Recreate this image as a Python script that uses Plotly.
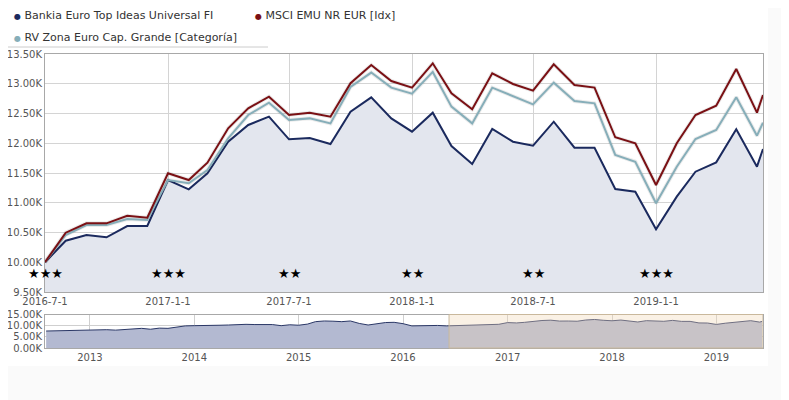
import plotly.graph_objects as go

# the page body has an 8px margin, so the figure is a bit smaller than the window
OFF = 8
W, H = 789 - OFF, 400 - OFF

# monthly values, rebased to 10000 on 2016-7-1
dates = ["2016-07-01", "2016-08-01", "2016-09-01", "2016-10-01", "2016-11-01", "2016-12-01",
         "2017-01-01", "2017-02-01", "2017-03-01", "2017-04-01", "2017-05-01", "2017-06-01",
         "2017-07-01", "2017-08-01", "2017-09-01", "2017-10-01", "2017-11-01", "2017-12-01",
         "2018-01-01", "2018-02-01", "2018-03-01", "2018-04-01", "2018-05-01", "2018-06-01",
         "2018-07-01", "2018-08-01", "2018-09-01", "2018-10-01", "2018-11-01", "2018-12-01",
         "2019-01-01", "2019-02-01", "2019-03-01", "2019-04-01", "2019-05-01", "2019-06-01",
         "2019-06-10"]
bankia = [10000, 10362, 10458, 10419, 10609, 10609, 11382, 11226, 11495, 12026, 12307, 12447,
          12066, 12088, 11987, 12530, 12772, 12418, 12194, 12514, 11954, 11651, 12240, 12026,
          11959, 12362, 11925, 11925, 11231, 11186, 10553, 11102, 11522, 11679, 12234, 11606,
          11903]
msci = [10000, 10497, 10654, 10654, 10782, 10749, 11495, 11382, 11673, 12251, 12587, 12783,
        12475, 12514, 12447, 13008, 13315, 13046, 12935, 13343, 12840, 12571, 13176, 12996,
        12884, 13327, 12980, 12935, 12100, 11999, 11298, 11999, 12475, 12631, 13248, 12514,
        12811]
categoria = [10000, 10458, 10626, 10626, 10727, 10710, 11382, 11327, 11551, 12082, 12475, 12682,
             12390, 12418, 12334, 12947, 13188, 12935, 12834, 13199, 12616, 12334, 12934, 12794,
             12654, 13018, 12710, 12671, 11803, 11690, 10991, 11606, 12071, 12223, 12772, 12127,
             12345]

# history shown in the navigator before the selected period
hist_dates = ["2012-08-01", "2012-09-01", "2012-10-01", "2012-11-01", "2012-12-01",
              "2013-01-01", "2013-02-01", "2013-03-01", "2013-04-01", "2013-05-01", "2013-06-01",
              "2013-07-01", "2013-08-01", "2013-09-01", "2013-10-01", "2013-11-01", "2013-12-01",
              "2014-01-01", "2014-02-01", "2014-03-01", "2014-04-01", "2014-05-01", "2014-06-01",
              "2014-07-01", "2014-08-01", "2014-09-01", "2014-10-01", "2014-11-01", "2014-12-01",
              "2015-01-01", "2015-02-01", "2015-03-01", "2015-04-01", "2015-05-01", "2015-06-01",
              "2015-07-01", "2015-08-01", "2015-09-01", "2015-10-01", "2015-11-01", "2015-12-01",
              "2016-01-01", "2016-02-01", "2016-03-01", "2016-04-01", "2016-05-01", "2016-06-01"]
hist_values = [7600, 7700, 7800, 7900, 8000,
               8200, 8300, 8200, 8000, 8300, 8500, 8800, 8400, 8900, 8800, 9400, 9900,
               10000, 10000, 9900, 10200, 10300, 10500, 10600, 10500, 10400, 10500, 10000, 10400,
               10200, 10700, 11800, 12100, 12000, 11800, 12100, 11000, 10300, 11000, 11400, 11500,
               10900, 9900, 10000, 10000, 10100, 9900]

y_ticks = [9500, 10000, 10500, 11000, 11500, 12000, 12500, 13000, 13500]
y_labels = ["9.50K", "10.00K", "10.50K", "11.00K", "11.50K", "12.00K", "12.50K", "13.00K", "13.50K"]
x_ticks = ["2016-07-01", "2017-01-01", "2017-07-01", "2018-01-01", "2018-07-01", "2019-01-01"]
x_labels = ["2016-7-1", "2017-1-1", "2017-7-1", "2018-1-1", "2018-7-1", "2019-1-1"]
star_dates = ["2016-07-01", "2017-01-01", "2017-07-01", "2018-01-01", "2018-07-01", "2019-01-01"]
star_counts = [3, 3, 2, 2, 2, 3]

nav_y_ticks = [0, 5000, 10000, 15000]
nav_y_labels = ["0.00K", "5.00K", "10.00K", "15.00K"]
nav_x_ticks = ["2013-01-01", "2014-01-01", "2015-01-01", "2016-01-01", "2017-01-01", "2018-01-01", "2019-01-01"]
nav_x_labels = ["2013", "2014", "2015", "2016", "2017", "2018", "2019"]

names = ["Bankia Euro Top Ideas Universal FI", "MSCI EMU NR EUR [Idx]", "RV Zona Euro Cap. Grande [Categoría]"]
colors = ["#1b2a5e", "#7a1014", "#86aeb9"]

FONT = "DejaVu Sans"

# window pixel -> paper fraction
def px_x(p):
    return (p - OFF) / W

def px_y(p):
    return 1 - (p - OFF) / H

fig = go.Figure()

# navy fund with area fill
fig.add_trace(go.Scatter(x=dates, y=bankia, mode="lines", fill="tozeroy",
                         fillcolor="#e3e6ee", line=dict(color=colors[0], width=2),
                         xaxis="x", yaxis="y", showlegend=False, hoverinfo="skip"))
# soft shadows under index and category
for vals in [categoria, msci]:
    fig.add_trace(go.Scatter(x=dates, y=vals, mode="lines",
                             line=dict(color="rgba(0,0,0,0.08)", width=4),
                             xaxis="x", yaxis="y", showlegend=False, hoverinfo="skip"))
fig.add_trace(go.Scatter(x=dates, y=categoria, mode="lines", line=dict(color=colors[2], width=2),
                         xaxis="x", yaxis="y", showlegend=False))
fig.add_trace(go.Scatter(x=dates, y=msci, mode="lines", line=dict(color=colors[1], width=2),
                         xaxis="x", yaxis="y", showlegend=False))

# navigator
nav_x = hist_dates + dates
nav_y = hist_values + bankia
fig.add_trace(go.Scatter(x=nav_x, y=nav_y, mode="lines", fill="tozeroy",
                         fillcolor="#b3b9d1", line=dict(color="#2a3766", width=1),
                         xaxis="x2", yaxis="y2", showlegend=False, hoverinfo="skip"))

main_top, main_bot = 54, 292
nav_top, nav_bot = 314.5, 348
x0, x1 = 45, 763

fig.update_layout(
    width=W, height=H,
    margin=dict(l=0, r=0, t=0, b=0),
    paper_bgcolor="white", plot_bgcolor="white",
    font=dict(family=FONT, size=10, color="#555555"),
    xaxis=dict(domain=[px_x(x0), px_x(x1)], range=["2016-07-01", "2019-06-10"],
               tickmode="array", tickvals=x_ticks, ticktext=x_labels,
               showgrid=True, gridcolor="#d4d4d4", gridwidth=1,
               showline=True, mirror=True, linecolor="#a8a8a8", linewidth=1,
               ticks="", zeroline=False, anchor="y", fixedrange=True, automargin=False),
    yaxis=dict(domain=[px_y(main_bot), px_y(main_top)], range=[9500, 13500],
               tickmode="array", tickvals=y_ticks, ticktext=y_labels,
               showgrid=True, gridcolor="#d4d4d4", gridwidth=1,
               showline=True, mirror=True, linecolor="#a8a8a8", linewidth=1,
               ticks="", zeroline=False, anchor="x", fixedrange=True, automargin=False),
    xaxis2=dict(domain=[px_x(x0), px_x(x1)], range=["2012-07-28", "2019-06-13"],
                tickmode="array", tickvals=nav_x_ticks, ticktext=nav_x_labels,
                showgrid=True, gridcolor="#cfcfcf",
                showline=True, mirror=True, linecolor="#a8a8a8",
                ticks="", zeroline=False, anchor="y2", fixedrange=True, automargin=False),
    yaxis2=dict(domain=[px_y(nav_bot), px_y(nav_top)], range=[0, 15000],
                tickmode="array", tickvals=nav_y_ticks, ticktext=nav_y_labels,
                showgrid=True, gridcolor="#cfcfcf",
                showline=True, mirror=True, linecolor="#a8a8a8",
                ticks="", zeroline=False, anchor="x2", fixedrange=True, automargin=False),
)

# selected period in the navigator
fig.add_shape(type="rect", xref="x2", yref="paper", x0="2016-06-10", x1="2019-06-13",
              y0=px_y(nav_bot), y1=px_y(nav_top),
              fillcolor="rgba(240,215,180,0.35)", line=dict(color="#c9b89c", width=1))

# off-white page strips, right and bottom
fig.add_shape(type="rect", xref="paper", yref="paper", x0=px_x(768), x1=1, y0=0, y1=1,
              fillcolor="#fafafa", line=dict(width=0), layer="below")
fig.add_shape(type="rect", xref="paper", yref="paper", x0=0, x1=1, y0=0, y1=px_y(366),
              fillcolor="#fafafa", line=dict(width=0), layer="below")

# rating stars
for d, n in zip(star_dates, star_counts):
    fig.add_annotation(x=d, xref="x", y=px_y(283), yref="paper", text="★" * n,
                       showarrow=False, font=dict(family=FONT, size=13, color="black"))

# legend
legend_pos = [(12, 15), (253, 15), (12, 37)]
for name, c, (lx, ly) in zip(names, colors, legend_pos):
    fig.add_annotation(x=px_x(lx), y=px_y(ly), xref="paper", yref="paper",
                       xanchor="left", yanchor="middle", showarrow=False,
                       text="<span style='color:%s;font-size:8px'>●</span> %s" % (c, name),
                       font=dict(family=FONT, size=11, color="#333333"))
fig.add_shape(type="line", xref="paper", yref="paper", x0=px_x(8), x1=px_x(268),
              y0=px_y(47), y1=px_y(47), line=dict(color="#cccccc", width=1))

fig.write_html("out.html")
